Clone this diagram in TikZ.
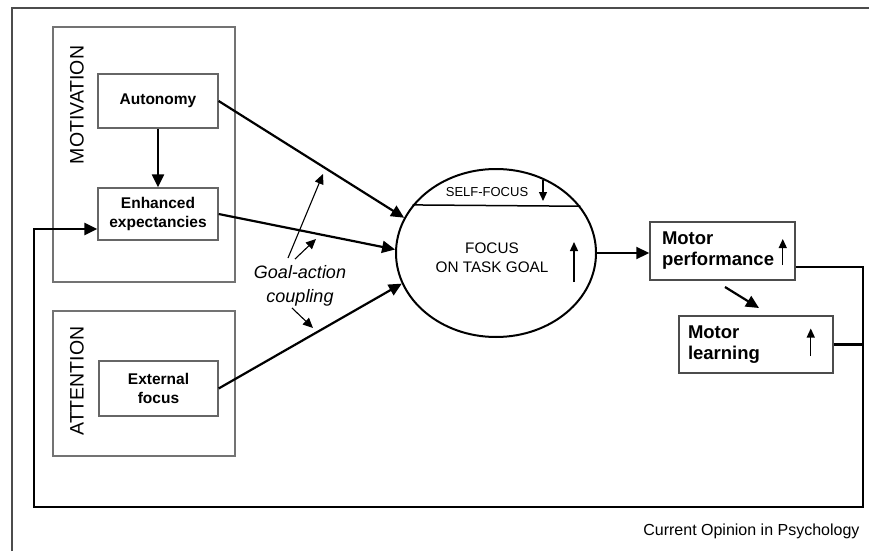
\documentclass[tikz,border=0pt]{standalone}
\usepackage{fontspec}
\setmainfont{Liberation Sans}
\usetikzlibrary{arrows.meta,shapes.geometric}

\begin{document}
\begin{tikzpicture}[x=1pt,y=-1pt,
    grp/.style={draw=black!55,line width=1.2pt,minimum width=182pt},
    box/.style={draw=black!60,line width=1.3pt,align=center,
      font=\fontsize{15.5}{19}\selectfont\bfseries},
    mbox/.style={draw=black!70,line width=1.5pt,align=left,
      font=\fontsize{18.5}{21}\selectfont\bfseries},
    grplabel/.style={rotate=90,font=\fontsize{19.5}{22}\selectfont},
    link/.style={line width=2.2pt,-{Triangle[length=13pt,width=12pt]}},
    gaarrow/.style={line width=1.1pt,-{Triangle[length=10pt,width=9pt]}},
    level/.style={line width=1.3pt,-{Triangle[length=9pt,width=8pt]}}]
      \useasboundingbox (0,0) rectangle (869,551);
      \draw[draw=black!70,line width=1.5pt] (12,551) -- (12,8) -- (869,8);

      \node[grp,minimum height=255pt] (motivation) at (144,154.5) {};
      \node[grp,minimum height=145pt] (attention) at (144,383.5) {};
      \node[grplabel] (motlabel) at (77,105) {MOTIVATION};
      \node[grplabel] (attlabel) at (77,381) {ATTENTION};

      \node[box,minimum width=120pt,minimum height=54pt] (autonomy) at (158,101) {Autonomy};
      \node[box,minimum width=120pt,minimum height=52pt] (enhanced) at (158,214) {Enhanced\\expectancies};
      \node[box,minimum width=119pt,minimum height=55pt] (external) at (158.5,388.5) {External\\focus};

      \node[ellipse,draw,line width=2pt,minimum width=200pt,minimum height=168pt,inner sep=0pt] (focus) at (496,253) {};
      \draw[line width=1.5pt] (focus.150.5) -- (focus.29.5);
      \node[font=\fontsize{13}{15}\selectfont] (self) at (487,192) {SELF-FOCUS};
      \node[align=center,font=\fontsize{15.3}{19}\selectfont] (task) at (492,257.5) {FOCUS\\ON TASK GOAL};
      \draw[level] (543,180) -- (543,201);
      \draw[level] (574,282) -- (574,242);

      \node[mbox,text width=121pt,inner xsep=12pt,minimum height=58pt] (perf) at (722.5,251) {Motor\\performance};
      \node[mbox,text width=136pt,inner xsep=9pt,minimum height=57pt] (learning) at (756,344.5) {Motor\\learning};
      \draw[level] ([xshift=-13pt,yshift=-14pt]perf.east) -- ([xshift=-13pt,yshift=12pt]perf.east);
      \draw[level] ([xshift=-23pt,yshift=-11.5pt]learning.east) -- ([xshift=-23pt,yshift=16pt]learning.east);

      \node[align=center,font=\fontsize{18}{23.5}\selectfont\itshape] (gac) at (300,286) {Goal-action\\coupling};
      \coordinate (gacl) at (288,258);
      \coordinate (gacs) at (295,259);
      \coordinate (gacd) at (292,308);
      \coordinate (toauto) at (323,174);
      \coordinate (toexp) at (316,239);
      \coordinate (toext) at (313,328);

      \draw[link] (autonomy.south) to (enhanced.north);
      \draw[link] (autonomy.east) to (focus.159);
      \draw[link] (enhanced.east) to (focus.178);
      \draw[link] (external.east) to (focus.198);
      \draw[link] (focus.east) to (focus.east -| perf.west);

      \draw[gaarrow] (gacl) to (toauto);
      \draw[gaarrow] (gacs) to (toexp);
      \draw[gaarrow] (gacd) to (toext);

      \coordinate (pl1) at (725,287);
      \coordinate (pl2) at (759,308);
      \draw[link] (pl1) to (pl2);

      \coordinate (rail) at (863,507);
      \coordinate (loop) at (34,507);
      \draw[link,line width=2.6pt] ([yshift=-16pt]perf.east) -| (rail) -- (loop) |- ([yshift=-15pt]enhanced.west);
      \draw[line width=2.6pt] (learning.east) -- (learning.east -| rail);

      \node[anchor=base east,font=\fontsize{16}{19}\selectfont] (credit) at (863,535) {Current Opinion in Psychology};
    \end{tikzpicture}
\end{document}
